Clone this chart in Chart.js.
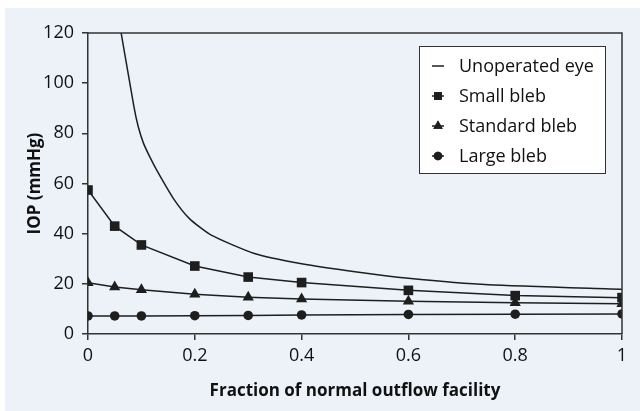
<!DOCTYPE html>
<html>
<head>
<meta charset="utf-8">
<script src="https://cdn.jsdelivr.net/npm/chart.js@4.4.1/dist/chart.umd.min.js"></script>
<style>
  html, body { margin: 0; padding: 0; background: #ffffff; }
  #wrap { position: absolute; left: 5px; top: 8px; width: 635px; height: 403px; background: #edf2f9; }
  canvas { display: block; }
</style>
</head>
<body>
<div id="wrap"><canvas id="c" width="635" height="403"></canvas></div>
<script>
// ---- data ----
const facility = [0, 0.05, 0.1, 0.2, 0.3, 0.4, 0.6, 0.8, 1];
const smallBleb = [57.4, 43, 35.5, 27.1, 22.7, 20.5, 17.4, 15.3, 14.5];
const standardBleb = [20.4, 18.7, 17.6, 15.8, 14.7, 14.0, 13.1, 12.5, 12.1];
const largeBleb = [7.2, 7.2, 7.2, 7.3, 7.4, 7.6, 7.8, 7.9, 8.0];
const unoperatedX = [0.05, 0.086, 0.094, 0.104, 0.116, 0.13, 0.16, 0.19, 0.23, 0.31, 0.4, 0.5, 0.6, 0.75, 1];
const unoperatedY = [135, 90.6, 82.7, 76, 70.5, 64.8, 54.0, 46.0, 39.5, 32.2, 28, 24.8, 22.2, 19.6, 17.8];
const xTickValues = [0, 0.2, 0.4, 0.6, 0.8, 1];
const seriesLabels = ['Unoperated eye', 'Small bleb', 'Standard bleb', 'Large bleb'];
const xTitle = 'Fraction of normal outflow facility';
const yTitle = 'IOP (mmHg)';

const pts = (xs, ys) => xs.map((x, i) => ({ x: x, y: ys[i] }));
const INK = '#1e1e1e';
const FONT = 'Open Sans';

const datasets = [
  { label: seriesLabels[0], data: pts(unoperatedX, unoperatedY), pointRadius: 0, pointStyle: false, legendStyle: 'line', tension: 0.2 },
  { label: seriesLabels[1], data: pts(facility, smallBleb), pointStyle: 'rect', pointRadius: 6.8, legendStyle: 'rect', legendRadius: 5.5 },
  { label: seriesLabels[2], data: pts(facility, standardBleb), pointStyle: 'triangle', pointRadius: 6.5, legendStyle: 'triangle', legendRadius: 5.5 },
  { label: seriesLabels[3], data: pts(facility, largeBleb), pointStyle: 'circle', pointRadius: 4.8, legendStyle: 'circle', legendRadius: 4.3 }
].map(d => Object.assign({
  showLine: true, borderColor: INK, backgroundColor: INK, borderWidth: 1.5,
  pointBorderWidth: 0, pointBackgroundColor: INK, tension: 0, clip: 0
}, d));

const framePlugin = {
  id: 'frame',
  afterDatasetsDraw(chart) {
    const { ctx, chartArea: a } = chart;
    ctx.save();
    ctx.strokeStyle = '#333';
    ctx.lineWidth = 1.5;
    ctx.beginPath();
    ctx.moveTo(a.left, a.top);
    ctx.lineTo(a.right, a.top);
    ctx.lineTo(a.right, a.bottom);
    ctx.stroke();
    ctx.restore();
  }
};

const legendPlugin = {
  id: 'boxLegend',
  afterDraw(chart) {
    const { ctx, chartArea: a } = chart;
    const bx = a.right - 203, by = a.top + 13, bw = 186, bh = 127;
    ctx.save();
    ctx.fillStyle = '#ffffff';
    ctx.fillRect(bx, by, bw, bh);
    ctx.strokeStyle = '#333';
    ctx.lineWidth = 1;
    ctx.strokeRect(bx + 0.5, by + 0.5, bw, bh);
    ctx.font = '18px "' + FONT + '"';
    ctx.textBaseline = 'middle';
    chart.data.datasets.forEach((ds, i) => {
      const cy = by + 20 + i * 30;
      const sx = bx + 19;
      ctx.strokeStyle = INK;
      ctx.lineWidth = 1.5;
      ctx.beginPath();
      ctx.moveTo(sx - 6, cy);
      ctx.lineTo(sx + 6, cy);
      ctx.stroke();
      if (ds.legendStyle !== 'line') {
        ctx.fillStyle = INK;
        Chart.helpers.drawPoint(ctx, { pointStyle: ds.legendStyle, radius: ds.legendRadius, rotation: 0, borderWidth: 0 }, sx, cy);
        ctx.fill();
      }
      ctx.fillStyle = '#111';
      ctx.fillText(ds.label, bx + 40, cy + 1);
    });
    ctx.restore();
  }
};

new Chart(document.getElementById('c'), {
  type: 'scatter',
  data: { datasets: datasets },
  options: {
    responsive: false,
    animation: false,
    layout: { padding: { left: 0, top: 25, right: 18, bottom: 0 } },
    plugins: { legend: { display: false }, tooltip: { enabled: false } },
    scales: {
      x: {
        type: 'linear', min: 0, max: 1,
        afterFit(s) { s.height = 77; },
        afterBuildTicks(s) { s.ticks = xTickValues.map(v => ({ value: v })); },
        ticks: { color: '#111', padding: 5, font: { family: FONT, size: 18 }, callback: v => String(+v.toFixed(1)) },
        grid: { display: true, drawOnChartArea: false, drawTicks: true, tickLength: 6, color: '#333', lineWidth: 1.5 },
        border: { display: true, color: '#333', width: 1.5 },
        title: { display: true, text: xTitle, color: '#111', font: { family: FONT, size: 17, weight: 'bold' }, padding: { top: 0, bottom: 10 } }
      },
      y: {
        type: 'linear', min: 0, max: 120,
        afterFit(s) { s.width = 83; },
        ticks: { stepSize: 20, color: '#111', padding: 8, font: { family: FONT, size: 18 } },
        grid: { display: true, drawOnChartArea: false, drawTicks: true, tickLength: 6, color: '#333', lineWidth: 1.5 },
        border: { display: true, color: '#333', width: 1.5 },
        title: { display: true, text: yTitle, color: '#111', font: { family: FONT, size: 17, weight: 'bold' }, padding: { top: 20, bottom: 0 } }
      }
    }
  },
  plugins: [framePlugin, legendPlugin]
});
</script>
</body>
</html>
